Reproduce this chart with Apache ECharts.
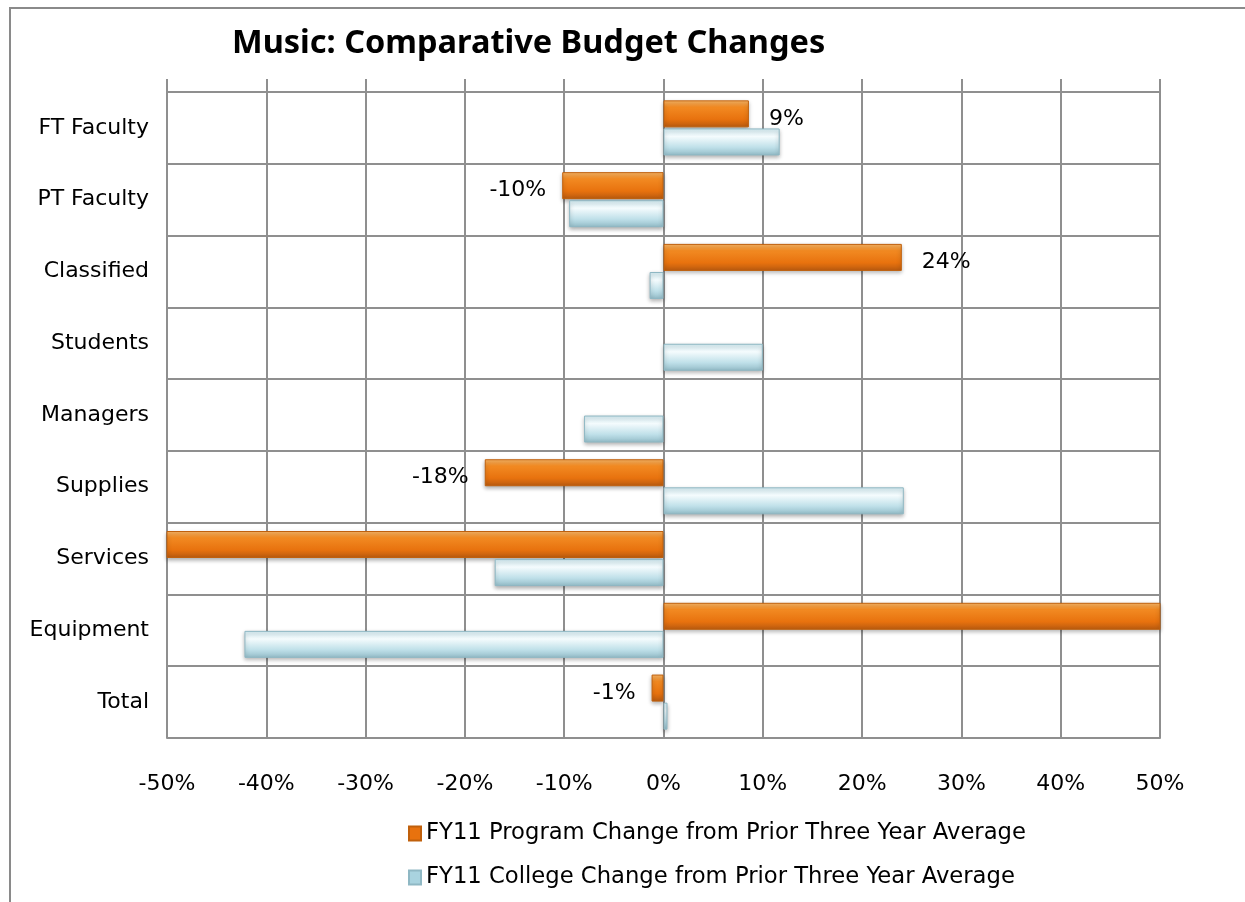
<!DOCTYPE html>
<html>
<head>
<meta charset="utf-8">
<script src="https://cdn.jsdelivr.net/npm/echarts@6/dist/echarts.min.js"></script>
<style>
html,body{margin:0;padding:0;background:#fff;overflow:hidden;}
#frame{position:absolute;left:9px;top:7px;width:1300px;height:1000px;border-left:2px solid #8a8a8a;border-top:2px solid #8a8a8a;}
#chart{position:absolute;left:0;top:0;width:1245px;height:902px;}
</style>
</head>
<body>
<div id="frame"></div>
<div id="chart"></div>
<script>
const titleText = 'Music: Comparative Budget Changes';
const categories = ['FT Faculty','PT Faculty','Classified','Students','Managers','Supplies','Services','Equipment','Total'];
const seriesNames = ['FY11 Program Change from Prior Three Year Average','FY11 College Change from Prior Three Year Average'];
const programChange = [8.6, -10.2, 24.0, null, null, -18.0, -75.0, 90.0, -1.2];
const collegeChange = [11.7, -9.5, -1.4, 10.0, -8.0, 24.2, -17.0, -42.2, 0.4];
const xTicks = {min: -50, max: 50, step: 10};

const FONT = 'DejaVu Sans';
const TFONT = 'Noto Sans';
const gridColor = '#8f8f8f';

const orangeGrad = new echarts.graphic.LinearGradient(0,0,0,1,[
  {offset:0, color:'#fbb868'},
  {offset:0.25, color:'#f28a22'},
  {offset:0.7, color:'#e8720e'},
  {offset:1, color:'#b85a10'}
]);
const blueGrad = new echarts.graphic.LinearGradient(0,0,0,1,[
  {offset:0, color:'#d6eef4'},
  {offset:0.3, color:'#f4fbfd'},
  {offset:0.7, color:'#bfe0e9'},
  {offset:1, color:'#93bcc8'}
]);

const chart = echarts.init(document.getElementById('chart'), null, {renderer:'canvas'});
const option = {
  animation:false,
  backgroundColor:'transparent',
  title:{
    text:titleText, left:227, top:22,
    textStyle:{fontFamily:TFONT, fontWeight:'bold', fontSize:32.5, color:'#000'}
  },
  legend:{
    orient:'vertical', left:403, top:817, itemGap:21, itemWidth:12, itemHeight:14,
    textStyle:{fontFamily:FONT, fontSize:22.7, color:'#000'},
    data:[
      {name:seriesNames[0], icon:'rect', itemStyle:{color:'#e8720e'}},
      {name:seriesNames[1], icon:'rect', itemStyle:{color:'#a9d3df'}}
    ]
  },
  grid:{left:167, right:85, top:92, bottom:164, containLabel:false},
  xAxis:[{
    type:'value', min:xTicks.min, max:xTicks.max, interval:xTicks.step, position:'bottom',
    axisLine:{show:true, lineStyle:{color:gridColor, width:2}},
    axisTick:{show:false},
    axisLabel:{formatter:'{value}%', fontFamily:FONT, fontSize:22, color:'#000', margin:35},
    splitLine:{show:true, lineStyle:{color:gridColor, width:2}}
  },{
    type:'value', min:xTicks.min, max:xTicks.max, interval:xTicks.step, position:'top',
    axisLine:{show:true, lineStyle:{color:gridColor, width:2}},
    axisTick:{show:true, length:13, inside:false, lineStyle:{color:gridColor, width:2}},
    axisLabel:{show:false},
    splitLine:{show:false}
  }],
  yAxis:{
    type:'category', inverse:true, data:categories,
    axisLine:{show:true, lineStyle:{color:gridColor, width:2}},
    axisTick:{show:false},
    axisLabel:{fontFamily:FONT, fontSize:22, color:'#000', margin:18},
    splitLine:{show:true, lineStyle:{color:gridColor, width:2}}
  },
  series:[{
    name:seriesNames[0], type:'bar', barWidth:27, barGap:'4%', clip:true,
    itemStyle:{color:orangeGrad, borderColor:'#c0600c', borderWidth:1, shadowColor:'rgba(0,0,0,0.3)', shadowBlur:4, shadowOffsetY:2},
    data:programChange.map(v => ({
      value:v,
      label:{show: v !== null && Math.abs(v) <= 50, position: v < 0 ? 'left' : 'right', distance: v < 0 ? 16 : 20, offset:[0,5]}
    })),
    label:{fontFamily:FONT, fontSize:22, color:'#000', formatter:p => Math.round(p.value) + '%'}
  },{
    name:seriesNames[1], type:'bar', barWidth:27, clip:true,
    itemStyle:{color:blueGrad, borderColor:'#8fb8c4', borderWidth:1, shadowColor:'rgba(0,0,0,0.3)', shadowBlur:4, shadowOffsetY:2},
    data:collegeChange
  }]
};
chart.setOption(option);
</script>
</body>
</html>
